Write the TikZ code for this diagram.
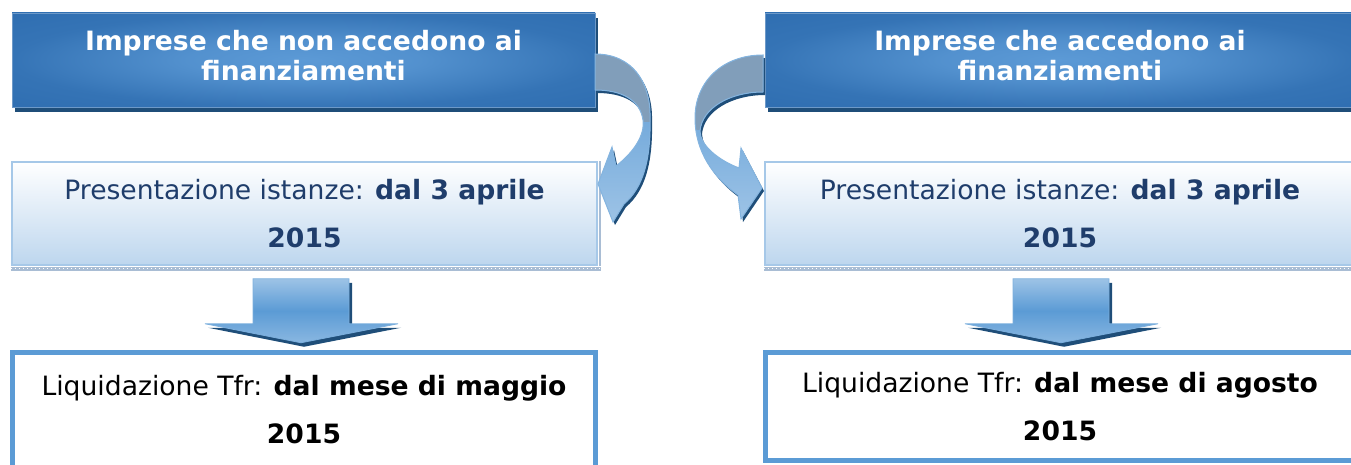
\documentclass[tikz,border=0pt]{standalone}
\usepackage{fontspec}
\setmainfont{DejaVu Sans}
\usetikzlibrary{calc,shadows}

\definecolor{topblue}{HTML}{2E6DB0}
\definecolor{toplight}{HTML}{5C9AD6}
\definecolor{shadowblue}{HTML}{1F4E79}
\definecolor{midline}{HTML}{A6C8E8}
\definecolor{midfill}{HTML}{BDD6EE}
\definecolor{midtext}{HTML}{1F3D6B}
\definecolor{arrblue}{HTML}{5B9BD5}
\definecolor{arrlight}{HTML}{9DC3E6}
\definecolor{arrgray}{HTML}{819EBA}
\definecolor{payline}{HTML}{5B9BD5}
\definecolor{stripcol}{HTML}{A9BDD4}

\pgfdeclareradialshading{boxglow}{\pgfpoint{0bp}{0bp}}{color(0bp)=(toplight); color(10bp)=(toplight!80!topblue); color(25bp)=(topblue!85!toplight); color(38bp)=(topblue); color(75bp)=(topblue)}

\tikzset{
	topbox/.style={minimum width=583pt, minimum height=94pt, inner sep=0pt, shading=boxglow, draw=topblue!70!white, line width=0.6pt, drop shadow={shadow xshift=3pt, shadow yshift=-5pt, fill=shadowblue, opacity=1}, text=white, font=\fontsize{26.6}{30}\selectfont\bfseries, align=center, text depth=10pt},
	datebox/.style={minimum width=585pt, minimum height=103pt, inner sep=0pt, top color=white, bottom color=midfill, draw=midline, line width=1.5pt, text=midtext, font=\fontsize{26.6}{48}\selectfont, align=center},
	paybox/.style={minimum width=583pt, minimum height=115pt, inner sep=0pt, fill=white, draw=payline, line width=5pt, text=black, font=\fontsize{26.6}{48}\selectfont, align=center},
	downarrow/.style={top color=arrlight, bottom color=arrlight!70!arrblue, middle color=arrblue, draw=arrblue!80!white, line width=0.8pt},
	curlarrow/.style={top color=arrblue, bottom color=arrlight, draw=none},
	curledge/.style={draw=arrblue!75!white, line width=1pt}
}

% curved arrows, pixel coordinates
\def\curlLeft{(595,54) .. controls (632,54) and (651,82) .. (650,118) .. controls (651,160) and (643,188) .. (624,204) -- (613,222) -- (598,184) -- (612,147) -- (616,166) .. controls (634,152) and (645,135) .. (643,120) .. controls (640,100) and (622,90) .. (595,90) -- cycle}
\def\curlRight{(763,55) .. controls (722,55) and (695,82) .. (695,118) .. controls (695,152) and (714,178) .. (738,195) -- (741,219) -- (762,188) -- (741,148) -- (739,168) .. controls (718,160) and (700,145) .. (700,131) .. controls (702,108) and (730,92) .. (763,92) -- cycle}

\begin{document}
\begin{tikzpicture}[x=1pt,y=-1pt]
	\useasboundingbox (0,0) rectangle (1351,465);
	
	%%%%% boxes
	\node[topbox] (topL) at (303.5,60) {Imprese che non accedono ai\\finanziamenti};
	\node[topbox, minimum width=590pt] (topR) at (1060,60) {Imprese che accedono ai\\finanziamenti};
	
	\node[datebox] (midL) at (304.5,213.5) {Presentazione istanze: \textbf{dal 3 aprile}\\\textbf{2015}};
	\node[datebox, minimum width=590pt] (midR) at (1060,213.5) {Presentazione istanze: \textbf{dal 3 aprile}\\\textbf{2015}};
	
	\foreach \b in {midL,midR}{
		\fill[stripcol] ([yshift=-0.75pt]\b.south west) rectangle ($(\b.south east)+(3,5)$);
		\fill[stripcol] ([xshift=0.75pt]\b.north east) rectangle ($(\b.south east)+(3,0)$);
		\draw[white, line width=1pt, dash pattern=on 1pt off 3pt] ($(\b.south west)+(0,3)$) -- ($(\b.south east)+(3,3)$);
	}
	
	\node[paybox] (payL) at (304,410) {Liquidazione Tfr: \textbf{dal mese di maggio}\\\textbf{2015}};
	\node[paybox, minimum width=589pt, minimum height=108pt] (payR) at (1060,406.5) {Liquidazione Tfr: \textbf{dal mese di agosto}\\\textbf{2015}};
	
	%%%%% down arrows
	\foreach \n/\dx in {L/-3.5,R/1}{
		\coordinate (d\n) at ($(mid\n.south)+(\dx,13)$);
		\fill[shadowblue] ([xshift=3pt,yshift=-4pt]d\n) ++(-48,0) -- ++(96,0) -- ++(0,45) -- ++(49,0) -- ++(-97,19) -- ++(-96,-19) -- ++(48,0) -- cycle;
		\draw[downarrow] (d\n) ++(-48,0) -- ++(96,0) -- ++(0,45) -- ++(49,0) -- ++(-97,19) -- ++(-96,-19) -- ++(48,0) -- cycle;
	}
	
	%%%%% curved arrows
	\fill[shadowblue, xshift=2pt, yshift=-3pt] \curlLeft;
	\path[curlarrow] \curlLeft;
	\begin{scope}
		\clip (580,40) rectangle (700,122);
		\fill[arrgray] \curlLeft;
	\end{scope}
	\path[curledge] \curlLeft;
	
	\fill[shadowblue, xshift=2pt, yshift=-3pt] \curlRight;
	\path[curlarrow] \curlRight;
	\begin{scope}
		\clip (680,40) rectangle (770,130);
		\fill[arrgray] \curlRight;
	\end{scope}
	\path[curledge] \curlRight;
\end{tikzpicture}
\end{document}
